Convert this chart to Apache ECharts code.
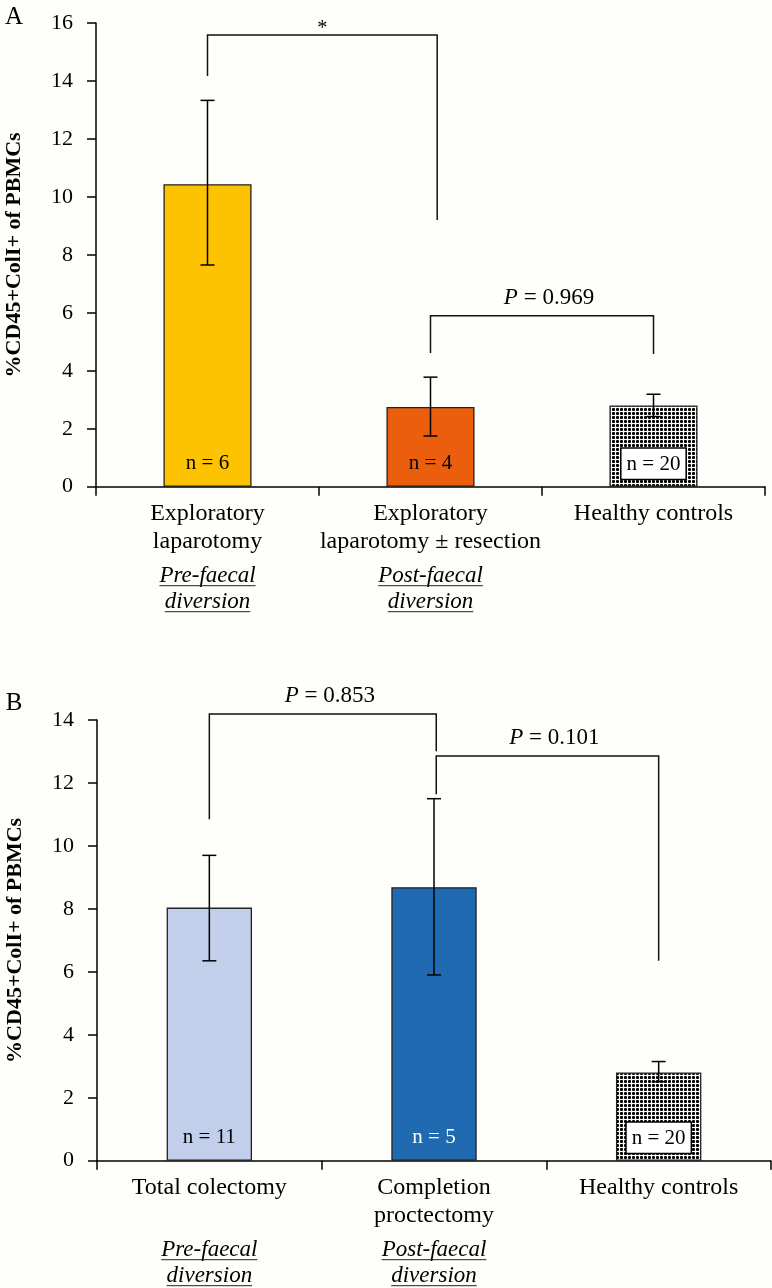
<!DOCTYPE html>
<html><head><meta charset="utf-8">
<script src="https://cdn.jsdelivr.net/npm/echarts@6/dist/echarts.min.js"></script>
<style>html,body{margin:0;padding:0;background:#fefefb;} #c{width:772px;height:1288px;}</style>
</head><body><div id="c"></div>
<script>
// ---------- Data ----------
const yAxisName = '%CD45+ColI+ of PBMCs';
// Panel A
const categoriesA = ['Exploratory\nlaparotomy', 'Exploratory\nlaparotomy \u00b1 resection', 'Healthy controls'];
const subtitlesA = ['Pre-faecal\ndiversion', 'Post-faecal\ndiversion', ''];
const meansA = [10.44, 2.75, 2.80];
const errLowA = [7.65, 1.75, 2.42];
const errHighA = [13.33, 3.78, 3.19];
const nLabelsA = ['n = 6', 'n = 4', 'n = 20'];
const yMaxA = 16;
// brackets: [leftX, rightX, topY, leftEndY, rightEndY]
const bracketsA = [[0, 1.03, 15.59, 14.17, 9.2], [1, 2, 5.9, 4.61, 4.58]];
const bracketTextA = ['*', '{i|P} = 0.969'];
// Panel B
const categoriesB = ['Total colectomy', 'Completion\nproctectomy', 'Healthy controls'];
const subtitlesB = ['Pre-faecal\ndiversion', 'Post-faecal\ndiversion', ''];
const meansB = [8.04, 8.69, 2.80];
const errLowB = [6.35, 5.90, 2.51];
const errHighB = [9.70, 11.50, 3.15];
const nLabelsB = ['n = 11', 'n = 5', 'n = 20'];
const yMaxB = 14;
const bracketsB = [[0, 1.01, 14.19, 10.85, 13.01], [1.01, 2, 12.86, 11.64, 6.35]];
const bracketTextB = ['{i|P} = 0.853', '{i|P} = 0.101'];
const yStep = 2;

// ---------- Styling ----------
const SERIF = '"Liberation Serif", "DejaVu Serif", serif';
function makePattern() {
  const c = document.createElement('canvas'); c.width = 4; c.height = 4;
  const ctx = c.getContext('2d');
  ctx.fillStyle = '#ffffff'; ctx.fillRect(0, 0, 4, 4);
  ctx.fillStyle = '#000000'; ctx.fillRect(0, 0, 3, 3);
  ctx.fillStyle = '#404040';
  [[0,0],[2,0],[0,2],[2,2]].forEach(p => ctx.fillRect(p[0], p[1], 1, 1));
  return {image: c, repeat: 'repeat'};
}
const checker = makePattern();
const colorsA = ['#FDC300', '#EA5E0E', checker];
const colorsB = ['#C1CFEA', '#1F6AB0', checker];
const nColorsA = ['#000', '#000', '#000'];
const nColorsB = ['#000', '#fff', '#000'];

const chart = echarts.init(document.getElementById('c'), null, {renderer: 'canvas'});

function barData(means, colors, labels, nColors) {
  return means.map((v, i) => {
    const boxed = colors[i] === checker;
    return {
      value: v,
      itemStyle: {color: colors[i]},
      label: {
        show: true, formatter: labels[i], color: nColors[i],
        distance: boxed ? 8 : 13,
        backgroundColor: boxed ? '#fff' : 'transparent',
        borderColor: boxed ? '#000' : 'transparent',
        borderWidth: boxed ? 1.5 : 0,
        padding: boxed ? [5, 5, 4, 5] : 0
      }
    };
  });
}
function errData(lo, hi) { return lo.map((l, i) => [i, l, hi[i]]); }

function errRender(params, api) {
  const x = api.value(0);
  const pLo = api.coord([x, api.value(1)]);
  const pHi = api.coord([x, api.value(2)]);
  const hw = 7, st = {stroke: '#000', lineWidth: 1.5};
  return {type: 'group', children: [
    {type: 'line', shape: {x1: pLo[0], y1: pLo[1], x2: pHi[0], y2: pHi[1]}, style: st},
    {type: 'line', shape: {x1: pHi[0] - hw, y1: pHi[1], x2: pHi[0] + hw, y2: pHi[1]}, style: st},
    {type: 'line', shape: {x1: pLo[0] - hw, y1: pLo[1], x2: pLo[0] + hw, y2: pLo[1]}, style: st}
  ]};
}
function bracketRender(texts) {
  return function (params, api) {
    const x1 = api.value(0), x2 = api.value(1), top = api.value(2);
    const a = api.coord([x1, api.value(3)]), b = api.coord([x1, top]);
    const c = api.coord([x2, top]), d = api.coord([x2, api.value(4)]);
    const t = texts[params.dataIndex];
    const star = t === '*';
    return {type: 'group', children: [
      {type: 'polyline', shape: {points: [a, b, c, d]}, style: {stroke: '#111', lineWidth: 1.5, fill: null}},
      {type: 'text', x: (b[0] + c[0]) / 2 + (star ? 0 : 7), y: b[1] - (star ? 6 : 18),
       style: {text: t, fontFamily: SERIF, fontSize: star ? 20 : 23, fill: '#000', align: 'center', verticalAlign: 'middle',
               rich: {i: {fontStyle: 'italic', fontFamily: SERIF, fontSize: 23}}}}
    ]};
  };
}

function xCat(gridIndex, cats) {
  return {
    type: 'category', gridIndex, data: cats,
    axisLine: {onZero: false, lineStyle: {color: '#000', width: 1.5}},
    axisTick: {show: true, length: 9, lineStyle: {color: '#000', width: 1.5}},
    axisLabel: {interval: 0, color: '#000', fontFamily: SERIF, fontSize: 24, lineHeight: 28, margin: 13},
    splitLine: {show: false}
  };
}
function xVal(gridIndex) {
  return {type: 'value', gridIndex, min: -0.5, max: 2.5, show: false, splitLine: {show: false}};
}
function yAx(gridIndex, max) {
  return {
    type: 'value', gridIndex, min: 0, max, interval: yStep,
    name: yAxisName, nameLocation: 'middle', nameGap: 71, nameRotate: 90,
    nameTextStyle: {fontFamily: SERIF, fontWeight: 'bold', fontSize: 22, color: '#000'},
    axisLine: {show: true, onZero: false, lineStyle: {color: '#000', width: 1.5}},
    axisTick: {show: true, length: 9, lineStyle: {color: '#000', width: 1.5}},
    axisLabel: {color: '#000', fontFamily: SERIF, fontSize: 22, margin: 23},
    splitLine: {show: false}
  };
}

const option = {
  backgroundColor: '#fefefb',
  animation: false,
  grid: [
    {left: 96, right: 7, top: 23, bottom: 801.3, containLabel: false, outerBoundsMode: 'none'},
    {left: 97, right: 1, top: 720, bottom: 127.3, containLabel: false, outerBoundsMode: 'none'}
  ],
  xAxis: [xCat(0, categoriesA), xVal(0), xCat(1, categoriesB), xVal(1)],
  yAxis: [yAx(0, yMaxA), yAx(1, yMaxB)],
  series: [
    {type: 'bar', xAxisIndex: 0, yAxisIndex: 0, barWidth: '39.5%',
     itemStyle: {borderColor: '#222', borderWidth: 1.3},
     label: {position: 'insideBottom', fontFamily: SERIF, fontSize: 21},
     data: barData(meansA, colorsA, nLabelsA, nColorsA)},
    {type: 'custom', xAxisIndex: 0, yAxisIndex: 0, renderItem: errRender, data: errData(errLowA, errHighA), z: 5},
    {type: 'custom', xAxisIndex: 1, yAxisIndex: 0, renderItem: bracketRender(bracketTextA), data: bracketsA, clip: false, z: 5},
    {type: 'bar', xAxisIndex: 2, yAxisIndex: 1, barWidth: '38%',
     itemStyle: {borderColor: '#222', borderWidth: 1.3},
     label: {position: 'insideBottom', fontFamily: SERIF, fontSize: 21},
     data: barData(meansB, colorsB, nLabelsB, nColorsB)},
    {type: 'custom', xAxisIndex: 2, yAxisIndex: 1, renderItem: errRender, data: errData(errLowB, errHighB), z: 5},
    {type: 'custom', xAxisIndex: 3, yAxisIndex: 1, renderItem: bracketRender(bracketTextB), data: bracketsB, clip: false, z: 5}
  ]
};
chart.setOption(option);

// ---------- Subtitles (italic, underlined) and panel letters ----------
const mctx = document.createElement('canvas').getContext('2d');
mctx.font = 'italic 23px ' + SERIF;
const graphics = [];
function addSubs(xAxisIndex, yAxisIndex, subs) {
  const y0 = chart.convertToPixel({yAxisIndex}, 0);
  const offs = [89, 115];
  subs.forEach((s, i) => {
    if (!s) return;
    const px = chart.convertToPixel({xAxisIndex}, i);
    s.split('\n').forEach((line, j) => {
      const cy = y0 + offs[j];
      const w = mctx.measureText(line).width;
      graphics.push({type: 'text', x: px, y: cy,
        style: {text: line, fontFamily: SERIF, fontStyle: 'italic', fontSize: 23, fill: '#000', align: 'center', verticalAlign: 'middle'}});
      graphics.push({type: 'line', shape: {x1: px - w / 2, y1: cy + 10, x2: px + w / 2, y2: cy + 10},
        style: {stroke: '#222', lineWidth: 1}});
    });
  });
}
addSubs(0, 0, subtitlesA);
addSubs(2, 1, subtitlesB);
const yA0 = chart.convertToPixel({yAxisIndex: 0}, yMaxA);
const yB0 = chart.convertToPixel({yAxisIndex: 1}, yMaxB);
graphics.push({type: 'text', x: 14, y: yA0 - 6, style: {text: 'A', fontFamily: SERIF, fontSize: 25, fill: '#000', align: 'center', verticalAlign: 'middle'}});
graphics.push({type: 'text', x: 14, y: yB0 - 17, style: {text: 'B', fontFamily: SERIF, fontSize: 25, fill: '#000', align: 'center', verticalAlign: 'middle'}});
chart.setOption({graphic: graphics});
</script></body></html>
